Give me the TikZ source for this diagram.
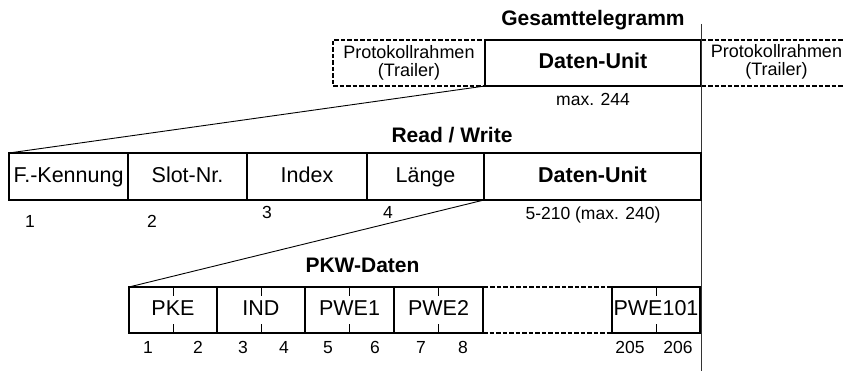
\documentclass[tikz,border=0pt]{standalone}
\usepackage{fontspec}
\setmainfont{Liberation Sans}
\begin{document}
\begin{tikzpicture}[x=1pt,y=-1pt,
  box/.style={draw=black,line width=1.8pt,inner sep=0pt,outer sep=0pt,text height=15.5pt,text depth=4.3pt,font=\fontsize{21.5}{24}\selectfont},
  dbox/.style={draw=black,line width=1.8pt,inner sep=0pt,outer sep=0pt,dash pattern=on 4.5pt off 2pt,font=\fontsize{18}{17.5}\selectfont,align=center},
  head/.style={inner sep=0pt,font=\fontsize{21}{24}\selectfont\bfseries},
  num/.style={inner sep=0pt,text height=12.5pt,text depth=0pt,font=\fontsize{17.5}{20}\selectfont},
  thin/.style={line width=0.9pt},
  tick/.style={line width=0.7pt}]
\useasboundingbox (0,0) rectangle (844,371);
% top row
\node[dbox,minimum width=152,minimum height=46] (trl) at (409,63) {Protokollrahmen\\(Trailer)};
\node[box,minimum width=216,minimum height=46,font=\fontsize{21.5}{24}\selectfont\bfseries] (du1) at (593,63) {Daten-Unit};
\coordinate (trrnw) at (701.5,40);
\coordinate (trrne) at (844,40);
\coordinate (trrsw) at (701.5,86);
\coordinate (trrse) at (844,86);
\node[align=center,inner sep=0pt,font=\fontsize{18}{17.5}\selectfont] (trr) at (776.5,62) {Protokollrahmen\\(Trailer)};
\draw[line width=1.8pt,dash pattern=on 4.5pt off 2pt] (trrnw) -- (trrne);
\draw[line width=1.8pt,dash pattern=on 4.5pt off 2pt] (trrsw) -- (trrse);
\node[head] (gt) at (593,20) {Gesamttelegramm};
\node[num] (m244) at (593,99) {max. 244};
% vertical line
\coordinate (vt) at (701.5,24);
\coordinate (vb) at (701.5,371);
\draw[line width=1.3pt,black!80] (vt) -- (vb);
% middle row
\node[box,minimum width=119,minimum height=47] (fk) at (68.5,176.5) {F.-Kennung};
\node[box,minimum width=119,minimum height=47] (slot) at (187.5,176.5) {Slot-Nr.};
\node[box,minimum width=120,minimum height=47] (idx) at (307,176.5) {Index};
\node[box,minimum width=117,minimum height=47] (len) at (425.5,176.5) {Länge};
\node[box,minimum width=217,minimum height=47,font=\fontsize{21.5}{24}\selectfont\bfseries] (du2) at (592.5,176.5) {Daten-Unit};
\node[head] (rw) at (452,135) {Read / Write};
\node[num] (n1) at (30,221) {1};
\node[num] (n2) at (152,221) {2};
\node[num] (n3) at (267,212) {3};
\node[num] (n4) at (388,212) {4};
\node[num] (n5) at (593,213) {5-210 (max. 240)};
\draw[thin] (du1.south west) -- (fk.north west);
% bottom row
\node[box,minimum width=88,minimum height=46] (pke) at (173,310) {PKE};
\node[box,minimum width=88,minimum height=46] (ind) at (261,310) {IND};
\node[box,minimum width=89,minimum height=46] (pwe1) at (349.5,310) {PWE1};
\node[box,minimum width=89,minimum height=46] (pwe2) at (438.5,310) {PWE2};
\node[box,dash pattern=on 4.5pt off 2pt,minimum width=129,minimum height=46] (gap) at (547.5,310) {};
\node[box,minimum width=88,minimum height=46] (pwe101) at (656,310) {PWE101};
\node[head] (pkw) at (362.5,265) {PKW-Daten};
\draw[thin] (du2.south west) -- (pke.north west);
\foreach \b in {pke,ind,pwe1,pwe2,pwe101}{
  \draw[tick] (\b.north) -- ++(0,9);
  \draw[tick] (\b.south) -- ++(0,-9);
}
\foreach \x/\t [count=\i] in {148/1,198/2,243/3,284/4,328/5,375/6,421/7,463/8,630/205,678/206}{
  \node[num] (b\i) at (\x,347) {\t};
}
\end{tikzpicture}
\end{document}
